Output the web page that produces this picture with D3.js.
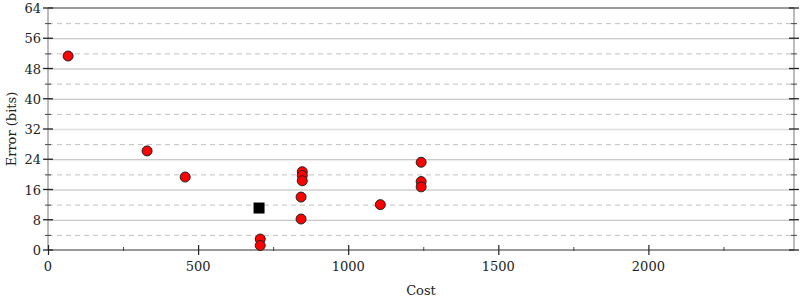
<!DOCTYPE html>
<html>
<head>
<meta charset="utf-8">
<script src="https://cdn.jsdelivr.net/npm/d3@7"></script>
<style>
  body { margin: 0; background: #fff; }
  svg text { font-family: 'DejaVu Serif', 'Liberation Serif', serif; fill: #222; }
</style>
</head>
<body>
<div id="chart"></div>
<script>
// point data
var costs  = [67, 330, 457, 707, 707, 847, 847, 847, 843, 843, 1107, 1243, 1243, 1243];
var errors = [51.3, 26.2, 19.3, 2.9, 1.2, 20.7, 19.7, 18.3, 14.0, 8.2, 12.0, 23.2, 18.1, 16.7];
// the single square marker
var squareCost = [703];
var squareError = [11.1];

var xTicks = [0, 500, 1000, 1500, 2000];
var xMinor = [250, 750, 1250, 1750, 2250];
var yTicks = [0, 8, 16, 24, 32, 40, 48, 56, 64];
var yMinor = [4, 12, 20, 28, 36, 44, 52, 60];

var width = 800, height = 300;
var margin = {left: 48, right: 6, top: 8, bottom: 50};

var svg = d3.select('#chart').append('svg')
    .attr('width', width)
    .attr('height', height)
    .attr('font-family', "'DejaVu Serif', 'Liberation Serif', serif");

var x = d3.scaleLinear().domain([0, 2485]).range([margin.left, width - margin.right]);
var y = d3.scaleLinear().domain([0, 64]).range([height - margin.bottom, margin.top]);

// grid lines
svg.selectAll('.minorGrid')
    .data(yMinor)
    .enter()
    .append('line')
    .attr('x1', x(0)).attr('x2', x(2485))
    .attr('y1', function(d) { return y(d) + 0.5; })
    .attr('y2', function(d) { return y(d) + 0.5; })
    .attr('stroke', '#c0c0c0')
    .attr('stroke-dasharray', '5,4');

svg.selectAll('.majorGrid')
    .data(yTicks.slice(1, -1))
    .enter()
    .append('line')
    .attr('x1', x(0)).attr('x2', x(2485))
    .attr('y1', function(d) { return y(d) + 0.5; })
    .attr('y2', function(d) { return y(d) + 0.5; })
    .attr('stroke', function(d) { return d == 32 ? '#dcdcdc' : '#b8b8b8'; })
    .attr('stroke-width', function(d) { return d == 32 ? 1.5 : 1; });

// frame
svg.append('line')
    .attr('x1', x(0)).attr('x2', x(2485))
    .attr('y1', y(64)).attr('y2', y(64))
    .attr('stroke', '#999').attr('stroke-width', 2);
svg.append('line')
    .attr('x1', x(0)).attr('x2', x(0))
    .attr('y1', y(64)).attr('y2', y(0))
    .attr('stroke', '#bbb').attr('stroke-width', 2);
svg.append('line')
    .attr('x1', x(2485)).attr('x2', x(2485))
    .attr('y1', y(64)).attr('y2', y(0))
    .attr('stroke', '#bbb').attr('stroke-width', 2);
svg.append('line')
    .attr('x1', x(0)).attr('x2', x(2485))
    .attr('y1', y(0)).attr('y2', y(0))
    .attr('stroke', '#999').attr('stroke-width', 2);

// y axis ticks, left and right
[x(0), x(2485)].forEach(function(px) {
    svg.selectAll(null)
        .data(yTicks)
        .enter()
        .append('line')
        .attr('x1', px - 5).attr('x2', px + 5)
        .attr('y1', function(d) { return y(d); })
        .attr('y2', function(d) { return y(d); })
        .attr('stroke', '#222').attr('stroke-width', 1.3);
    svg.selectAll(null)
        .data(yMinor)
        .enter()
        .append('line')
        .attr('x1', px - 3).attr('x2', px + 3)
        .attr('y1', function(d) { return y(d) + 0.5; })
        .attr('y2', function(d) { return y(d) + 0.5; })
        .attr('stroke', '#444');
});

svg.selectAll('.yLabel')
    .data(yTicks)
    .enter()
    .append('text')
    .attr('x', x(0) - 7)
    .attr('y', function(d) { return y(d) + 5; })
    .attr('text-anchor', 'end')
    .style('font-size', '13px')
    .text(function(d) { return d; });

// x axis ticks
svg.selectAll('.xTick')
    .data(xTicks)
    .enter()
    .append('line')
    .attr('x1', function(d) { return x(d) + 0.5; })
    .attr('x2', function(d) { return x(d) + 0.5; })
    .attr('y1', y(0) - 5).attr('y2', y(0) + 5)
    .attr('stroke', '#222').attr('stroke-width', 1.2);
svg.selectAll('.xMinor')
    .data(xMinor)
    .enter()
    .append('line')
    .attr('x1', function(d) { return x(d) + 0.5; })
    .attr('x2', function(d) { return x(d) + 0.5; })
    .attr('y1', y(0) - 3).attr('y2', y(0) + 1)
    .attr('stroke', '#444');

svg.selectAll('.xLabel')
    .data(xTicks)
    .enter()
    .append('text')
    .attr('x', function(d) { return x(d); })
    .attr('y', y(0) + 21)
    .attr('text-anchor', 'middle')
    .style('font-size', '13px')
    .text(function(d) { return d; });

// axis titles
svg.append('text')
    .attr('x', 421).attr('y', 295)
    .attr('text-anchor', 'middle')
    .style('font-size', '13px')
    .text('Cost');
svg.append('text')
    .attr('transform', 'translate(16, ' + y(32) + ') rotate(-90)')
    .attr('text-anchor', 'middle')
    .style('font-size', '13px')
    .text('Error (bits)');

// points
var pts = costs.map(function(c, i) { return {c: c, e: errors[i]}; });
svg.selectAll('.pt')
    .data(pts)
    .enter()
    .append('circle')
    .attr('cx', function(d) { return x(d.c); })
    .attr('cy', function(d) { return y(d.e); })
    .attr('r', 5)
    .attr('fill', '#ff0000')
    .attr('stroke', '#222')
    .attr('stroke-width', 1);

svg.selectAll('.sq')
    .data(squareCost)
    .enter()
    .append('rect')
    .attr('x', function(d) { return x(d) - 5.5; })
    .attr('y', function(d, i) { return y(squareError[i]) - 5.5; })
    .attr('width', 11)
    .attr('height', 11)
    .attr('fill', '#000');
</script>
</body>
</html>
